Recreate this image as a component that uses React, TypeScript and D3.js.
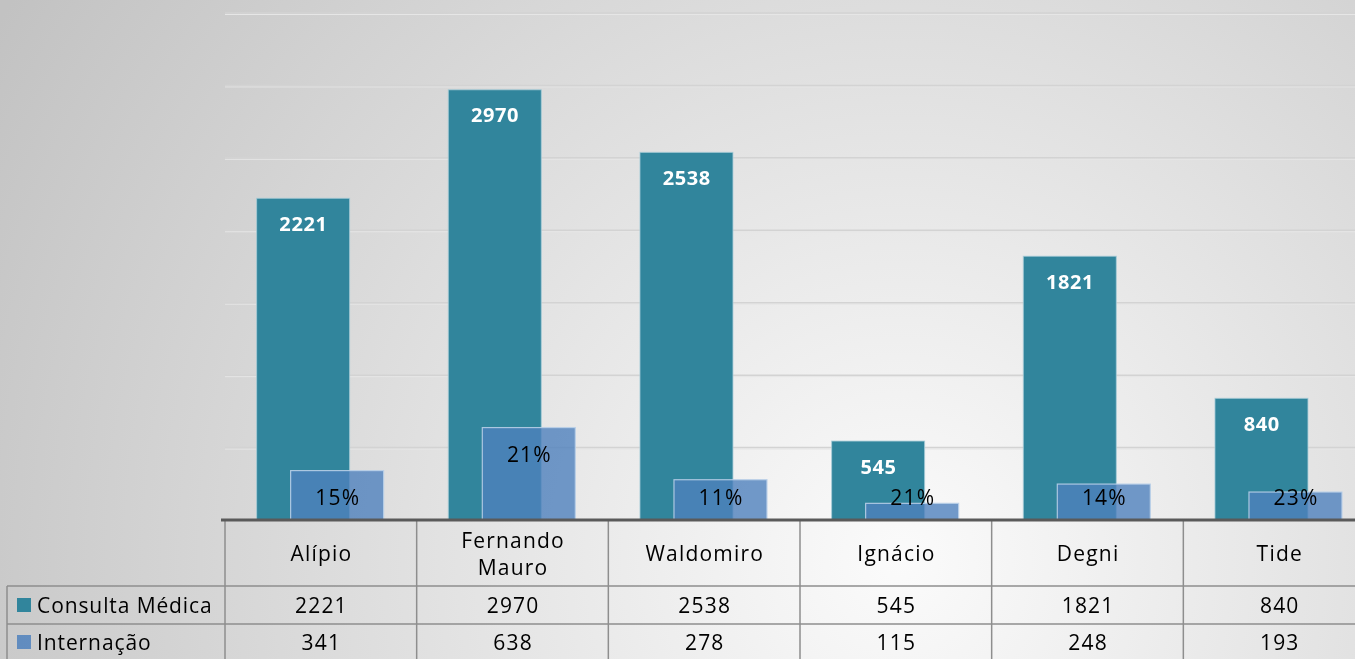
import * as d3 from "d3";
import * as React from "react";

const categories = ["Alípio", "Fernando Mauro", "Waldomiro", "Ignácio", "Degni", "Tide"];
const seriesNames = ["Consulta Médica", "Internação"];
const consulta = [2221, 2970, 2538, 545, 1821, 840];
const internacao = [341, 638, 278, 115, 248, 193];
const yTicks = [500, 1000, 1500, 2000, 2500, 3000, 3500];

const W = 1355;
const H = 659;
const FONT = "'Open Sans', 'Noto Sans', sans-serif";
const LS = 1.2;
const FS = 21;

export default function App() {
  const plotLeft = 225;
  const plotRight = 1375;
  const base = 520;
  const headerBottom = 586;
  const row1Bottom = 624;
  const row2Bottom = 662;
  const legendLeft = 7;

  const x = d3.scaleBand().domain(categories).range([plotLeft, plotRight]).padding(0);
  const y = d3.scaleLinear().domain([0, 3500]).range([base, 13]);

  const barW = 93;
  const off = 17;
  const colors = ["#31859c", "#4f81bd"];

  return (
    <svg
      width={W}
      height={H}
      style={{ position: "fixed", left: 0, top: 0 }}
      fontFamily={FONT}
    >
      <defs>
        <radialGradient id="bg" gradientUnits="userSpaceOnUse" cx={900} cy={560} r={1050}>
          <stop offset="0" stopColor="#fbfbfb" />
          <stop offset="1" stopColor="#c2c2c2" />
        </radialGradient>
      </defs>
      <rect width={W} height={H} fill="url(#bg)" />

      {/* gridlines */}
      {yTicks.map((t) => (
        <g key={t}>
          <line x1={plotLeft} x2={W} y1={y(t) + 1.5} y2={y(t) + 1.5} stroke="#e6e6e6" strokeWidth={1} />
          <line x1={plotLeft} x2={W} y1={y(t)} y2={y(t)} stroke="#d3d3d3" strokeWidth={1.5} />
        </g>
      ))}

      {/* bars */}
      {categories.map((c, i) => {
        const cx = x(c)! + x.bandwidth() / 2 - 0.7;
        const c1 = cx - off;
        const c2 = cx + off;
        const top1 = y(consulta[i]);
        const top2 = y(internacao[i]);
        const pct = Math.round((internacao[i] / consulta[i]) * 100) + "%";
        const ly2 = Math.min(top2 + 26, base - 23);
        return (
          <g key={c}>
            <rect
              x={c1 - barW / 2}
              y={top1}
              width={barW}
              height={base - top1}
              fill={colors[0]}
              stroke="#a9cdd8"
              strokeOpacity={0.8}
              strokeWidth={1}
            />
            <rect
              x={c2 - barW / 2}
              y={top2}
              width={barW}
              height={base - top2}
              fill={colors[1]}
              fillOpacity={0.8}
              stroke="#b9cfe8"
              strokeOpacity={0.9}
              strokeWidth={1.2}
            />
            <text
              x={c1 + 0.3}
              y={top1 + 25}
              textAnchor="middle"
              dominantBaseline="central"
              fill="#ffffff"
              fontWeight="bold"
              fontSize={20}
              letterSpacing={0.6}
            >
              {consulta[i]}
            </text>
            <text
              x={c2 + LS / 2}
              y={ly2}
              textAnchor="middle"
              dominantBaseline="central"
              fill="#000000"
              fontSize={FS}
              letterSpacing={LS}
            >
              {pct}
            </text>
          </g>
        );
      })}

      {/* data table */}
      <g stroke="#8e8e8e" strokeWidth={1.5}>
        <line x1={legendLeft} x2={W} y1={headerBottom} y2={headerBottom} />
        <line x1={legendLeft} x2={W} y1={row1Bottom} y2={row1Bottom} />
        <line x1={legendLeft} x2={legendLeft} y1={headerBottom} y2={row2Bottom} />
        <line x1={plotLeft} x2={plotLeft} y1={base} y2={row2Bottom} />
        {categories.map((c) => (
          <line key={c} x1={x(c)! + x.bandwidth()} x2={x(c)! + x.bandwidth()} y1={base} y2={row2Bottom} />
        ))}
      </g>
      <line x1={plotLeft - 4} x2={W} y1={base} y2={base} stroke="#5a5a5a" strokeWidth={3} />

      {categories.map((c) => {
        const cx = x(c)! + x.bandwidth() / 2 + LS / 2;
        const parts = c.split(" ");
        return (
          <text key={c} x={cx} textAnchor="middle" fontSize={FS} letterSpacing={LS} fill="#000" dominantBaseline="central">
            {parts.length === 1 ? (
              <tspan x={cx} y={553}>{c}</tspan>
            ) : (
              parts.map((p, k) => (
                <tspan key={k} x={cx} y={540 + k * 27}>{p}</tspan>
              ))
            )}
          </text>
        );
      })}

      {[consulta, internacao].map((vals, r) => {
        const rowY = r === 0 ? (headerBottom + row1Bottom) / 2 : (row1Bottom + row2Bottom) / 2 - 1;
        return (
          <g key={r}>
            <rect x={17} y={rowY - 7} width={14} height={14} fill={colors[r]} fillOpacity={r === 1 ? 0.85 : 1} />
            <text x={37} y={rowY} dominantBaseline="central" fontSize={FS} letterSpacing={0.9} fill="#000">
              {seriesNames[r]}
            </text>
            {categories.map((c, i) => (
              <text
                key={c}
                x={x(c)! + x.bandwidth() / 2 + LS / 2}
                y={rowY}
                textAnchor="middle"
                dominantBaseline="central"
                fontSize={FS}
                letterSpacing={LS}
                fill="#000"
              >
                {vals[i]}
              </text>
            ))}
          </g>
        );
      })}
    </svg>
  );
}
